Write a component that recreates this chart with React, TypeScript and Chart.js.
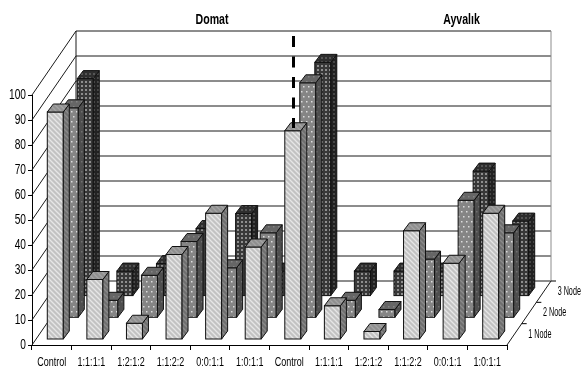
import React, { useEffect, useRef } from "react";
import { Chart, BarController, registerables } from "chart.js";

const categories = ["Control", "1:1:1:1", "1:2:1:2", "1:1:2:2", "0:0:1:1", "1:0:1:1", "Control", "1:1:1:1", "1:2:1:2", "1:1:2:2", "0:0:1:1", "1:0:1:1"];
const node1 = [91, 24, 6.5, 34, 50.5, 37, 83.5, 13.5, 3.2, 43.5, 30.5, 50.5];
const node2 = [84, 7, 17, 30.5, 20, 34, 94, 7, 3.3, 23.5, 47, 34];
const node3 = [87, 10, 13, 27, 33, 10, 93.5, 10, 10, 10, 50, 30];
const depthLabels = ["1 Node", "2 Node", "3 Node"];
const siteTitles = ["Domat", "Ayvalık"];

const FONT = '"Liberation Sans", Arial, sans-serif';
const DEPTH_X = 44;
const DEPTH_Y = 64;
const SLOT_X = 15;
const SLOT_Y = 21.7;
const LEAD_X = 3.5;
const LEAD_Y = 5.5;
const BOX_X = 6;
const BOX_Y = 8;

function tile(w: number, h: number, paint: (c: CanvasRenderingContext2D) => void) {
  const canvas = document.createElement("canvas");
  canvas.width = w;
  canvas.height = h;
  const c = canvas.getContext("2d")!;
  paint(c);
  return c.createPattern(canvas, "repeat")!;
}

function stripes(base: string, line: string) {
  return tile(5, 5, (c) => {
    c.fillStyle = base;
    c.fillRect(0, 0, 5, 5);
    c.strokeStyle = line;
    c.lineWidth = 1.3;
    c.beginPath();
    c.moveTo(-1, -1);
    c.lineTo(6, 6);
    c.moveTo(-1, 4);
    c.lineTo(1, 6);
    c.moveTo(4, -1);
    c.lineTo(6, 1);
    c.stroke();
  });
}

function dots(base: string, dot: string, size: number, staggered: boolean) {
  const s = staggered ? 5 : 4;
  return tile(s, staggered ? s * 2 : s, (c) => {
    c.fillStyle = base;
    c.fillRect(0, 0, s, s * 2);
    c.fillStyle = dot;
    c.fillRect(1, 1, size, size);
    if (staggered) c.fillRect(3, 6, size, size);
  });
}

// Condensed text: the installed sans is squeezed horizontally around its anchor.
function squeezed(
  ctx: CanvasRenderingContext2D,
  text: string,
  x: number,
  y: number,
  font: string,
  squeeze: number,
  align: CanvasTextAlign,
) {
  ctx.save();
  ctx.translate(x, y);
  ctx.scale(squeeze, 1);
  ctx.font = font;
  ctx.textAlign = align;
  ctx.textBaseline = "middle";
  ctx.fillStyle = "#000";
  ctx.fillText(text, 0, 0);
  ctx.restore();
}

// Draws each bar as a lit box pushed back along the depth axis by its series slot.
class Box3DController extends BarController {
  static id = "box3d";
  static defaults = { ...BarController.defaults, dataElementType: "bar" };
  static overrides = BarController.overrides;

  draw() {
    const ctx = (this as any).chart.ctx as CanvasRenderingContext2D;
    const meta = (this as any)._cachedMeta;
    const ds = (this as any).getDataset();
    const slot = (this as any).index as number;
    const ox = LEAD_X + SLOT_X * slot;
    const oy = LEAD_Y + SLOT_Y * slot;
    ctx.save();
    ctx.lineWidth = 1;
    ctx.strokeStyle = "#111";
    for (const bar of meta.data) {
      const l = bar.x - bar.width / 2 + ox;
      const r = l + bar.width;
      const t = bar.y - oy;
      const b = bar.base - oy;
      ctx.fillStyle = ds.backgroundColor;
      ctx.fillRect(l, t, r - l, b - t);
      ctx.strokeRect(l, t, r - l, b - t);
      ctx.beginPath();
      ctx.moveTo(r, t);
      ctx.lineTo(r + BOX_X, t - BOX_Y);
      ctx.lineTo(r + BOX_X, b - BOX_Y);
      ctx.lineTo(r, b);
      ctx.closePath();
      ctx.fillStyle = ds.sideFill;
      ctx.fill();
      ctx.stroke();
      ctx.beginPath();
      ctx.moveTo(l, t);
      ctx.lineTo(l + BOX_X, t - BOX_Y);
      ctx.lineTo(r + BOX_X, t - BOX_Y);
      ctx.lineTo(r, t);
      ctx.closePath();
      ctx.fillStyle = ds.topFill;
      ctx.fill();
      ctx.stroke();
    }
    ctx.restore();
  }
}

// Back wall, side wall and floor behind the boxes.
const walls = {
  id: "walls",
  beforeDatasetsDraw(chart: any) {
    const { ctx, chartArea: a, scales } = chart;
    const y = scales.y;
    ctx.save();
    ctx.lineWidth = 1;
    ctx.strokeStyle = "#1a1a1a";
    ctx.beginPath();
    for (const tick of y.ticks) {
      const py = y.getPixelForValue(tick.value);
      ctx.moveTo(a.left, py);
      ctx.lineTo(a.left + DEPTH_X, py - DEPTH_Y);
      ctx.lineTo(a.right + DEPTH_X, py - DEPTH_Y);
    }
    ctx.moveTo(a.left + DEPTH_X, a.top - DEPTH_Y);
    ctx.lineTo(a.left + DEPTH_X, a.bottom - DEPTH_Y);
    ctx.moveTo(a.right, a.bottom);
    ctx.lineTo(a.right + DEPTH_X, a.bottom - DEPTH_Y);
    ctx.stroke();
    ctx.strokeStyle = "#8c8c8c";
    ctx.beginPath();
    ctx.moveTo(a.right + DEPTH_X, a.top - DEPTH_Y);
    ctx.lineTo(a.right + DEPTH_X, a.bottom - DEPTH_Y);
    ctx.stroke();

    ctx.strokeStyle = "#000";
    ctx.beginPath();
    for (let i = 1; i <= 3; i++) {
      const tx = a.right + (DEPTH_X * i) / 3;
      const ty = a.bottom - (DEPTH_Y * i) / 3;
      ctx.moveTo(tx, ty);
      ctx.lineTo(tx + 5, ty);
    }
    ctx.stroke();
    ctx.restore();
  },
};

// Axis text, headings and the dashed divider between the two sites.
const annotations = {
  id: "annotations",
  afterDraw(chart: any) {
    const { ctx, chartArea: a, scales } = chart;
    const yFont = `14.5px ${FONT}`;
    for (const tick of scales.y.ticks) {
      squeezed(ctx, String(tick.value), 26, scales.y.getPixelForValue(tick.value), yFont, 0.7, "right");
    }
    const xFont = `12.5px ${FONT}`;
    categories.forEach((label, i) => {
      squeezed(ctx, label, scales.x.getPixelForValue(i), 363, xFont, 0.72, "center");
    });
    depthLabels.forEach((label, i) => {
      const tx = a.right + (DEPTH_X * (i + 0.5)) / 3 + 14;
      const ty = a.bottom - (DEPTH_Y * (i + 0.5)) / 3;
      squeezed(ctx, label, tx, ty, `12px ${FONT}`, 0.6, "left");
    });
    const titleFont = `bold 14.5px ${FONT}`;
    squeezed(ctx, siteTitles[0], 212, 19.5, titleFont, 0.73, "center");
    squeezed(ctx, siteTitles[1], 461.5, 19.5, titleFont, 0.73, "center");
    ctx.save();
    ctx.strokeStyle = "#000";
    ctx.lineWidth = 3;
    ctx.setLineDash([11, 9.5]);
    ctx.beginPath();
    ctx.moveTo(293.5, 36);
    ctx.lineTo(293.5, 128);
    ctx.stroke();
    ctx.restore();
  },
};

export default function App() {
  const ref = useRef<HTMLCanvasElement>(null);
  useEffect(() => {
    Chart.register(...registerables, Box3DController as any);
    const chart = new Chart(ref.current!, {
      type: "box3d" as any,
      data: {
        labels: categories,
        datasets: [
          { label: depthLabels[0], data: node1, backgroundColor: stripes("#c2c2c2", "#e6e6e6"), sideFill: stripes("#6f6f6f", "#8a8a8a"), topFill: stripes("#8f8f8f", "#a4a4a4") },
          { label: depthLabels[1], data: node2, backgroundColor: dots("#858585", "#dcdcdc", 1.5, true), sideFill: dots("#4e4e4e", "#707070", 1.5, true), topFill: dots("#666666", "#848484", 1.5, true) },
          { label: depthLabels[2], data: node3, backgroundColor: dots("#383838", "#8e8e8e", 2, false), sideFill: dots("#222222", "#484848", 2, false), topFill: dots("#2e2e2e", "#555555", 2, false) },
        ] as any,
      },
      plugins: [walls, annotations],
      options: {
        animation: false,
        responsive: false,
        layout: { padding: { top: 95, right: 74, left: 0, bottom: 0 } },
        datasets: { box3d: { grouped: false, barThickness: 16, clip: false } } as any,
        plugins: { legend: { display: false }, tooltip: { enabled: false }, title: { display: false } },
        scales: {
          x: {
            offset: true,
            afterFit: (s: any) => { s.height = 25; },
            border: { color: "#000" },
            grid: { offset: true, drawOnChartArea: false, tickLength: 5, color: "#000" },
            ticks: { display: false, autoSkip: false },
          },
          y: {
            min: 0,
            max: 100,
            afterFit: (s: any) => { s.width = 32; },
            border: { color: "#000" },
            grid: { drawOnChartArea: false, tickLength: 4, color: "#000" },
            ticks: { display: false, stepSize: 10 },
          },
        },
      },
    });
    return () => chart.destroy();
  }, []);
  return <canvas ref={ref} width={581} height={370} style={{ position: "absolute", left: 0, top: 0, display: "block" }} />;
}
